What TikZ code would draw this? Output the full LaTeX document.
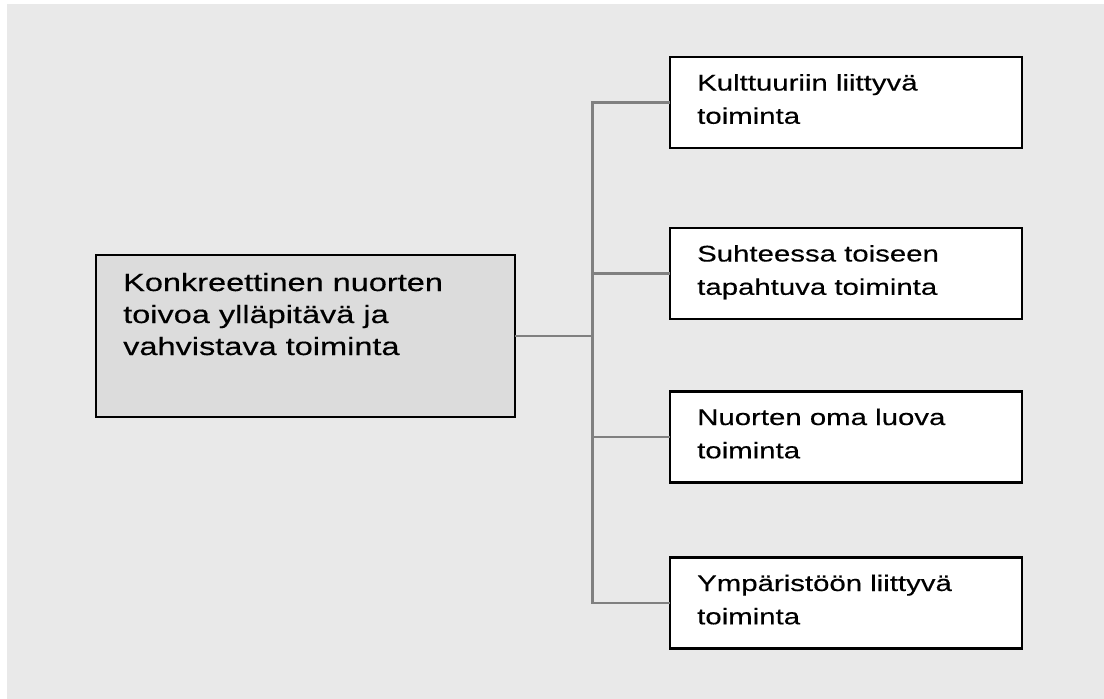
\documentclass[tikz,border=0pt]{standalone}
\usepackage{fontspec}
\setmainfont{Liberation Sans}
\newfontfamily\boxfont{Liberation Sans}[FakeStretch=1.3,FakeBold=0.35]
\definecolor{panel}{HTML}{E9E9E9}
\definecolor{mainfill}{HTML}{DCDCDC}
\definecolor{wire}{HTML}{808080}
% lines stacked with the first baseline as the node baseline
\newcommand\toplines[1]{\vtop{#1}}
\begin{document}
\begin{tikzpicture}[x=1pt,y=-1pt,
  box/.style={draw=black, line width=2.8pt, inner sep=0pt, outer sep=0pt, anchor=north west},
  subbox/.style={box, fill=white, minimum width=352pt, minimum height=91pt},
  maintext/.style={anchor=base west, inner sep=0pt,
    font=\boxfont\fontsize{25}{32}\selectfont},
  subtext/.style={anchor=base west, inner sep=0pt,
    font=\boxfont\fontsize{22.6}{33.3}\selectfont},
  link/.style={draw=wire, line width=2.6pt}]
  % page and grey panel
  \useasboundingbox (0,0) rectangle (1104,699);
  \fill[white] (0,0) rectangle (1104,699);
  \fill[panel] (7,4) rectangle (1104,699);

  % main box
  \node[box, fill=mainfill, minimum width=419pt, minimum height=162pt] (m) at (96,255) {};
  \node[maintext] (mt) at ([xshift=27pt,yshift=-36pt]m.north west)
    {\toplines{\hbox{Konkreettinen nuorten}\hbox{toivoa ylläpitävä ja}\hbox{vahvistava toiminta}}};

  % branch boxes
  \node[subbox] (b1) at (670,57) {};
  \node[subbox] (b2) at (670,228) {};
  \node[subbox] (b3) at (670,391.5) {};
  \node[subbox] (b4) at (670,557.5) {};
  \node[subtext] (t1) at ([xshift=27pt,yshift=-33.5pt]b1.north west) {\toplines{\hbox{Kulttuuriin liittyvä}\hbox{toiminta}}};
  \node[subtext] (t2) at ([xshift=27pt,yshift=-33.5pt]b2.north west) {\toplines{\hbox{Suhteessa toiseen}\hbox{tapahtuva toiminta}}};
  \node[subtext] (t3) at ([xshift=27pt,yshift=-33.5pt]b3.north west) {\toplines{\hbox{Nuorten oma luova}\hbox{toiminta}}};
  \node[subtext] (t4) at ([xshift=27pt,yshift=-33.5pt]b4.north west) {\toplines{\hbox{Ympäristöön liittyvä}\hbox{toiminta}}};

  % tree connectors
  \coordinate (bus) at (592.5,336);
  \path[link] (m.east) -- (m.east -| bus);
  \path[link] (b1.west) -- (b1.west -| bus) -- (b4.west -| bus) -- (b4.west);
  \path[link] (b2.west -| bus) -- (b2.west);
  \path[link] (b3.west -| bus) -- (b3.west);
\end{tikzpicture}
\end{document}
